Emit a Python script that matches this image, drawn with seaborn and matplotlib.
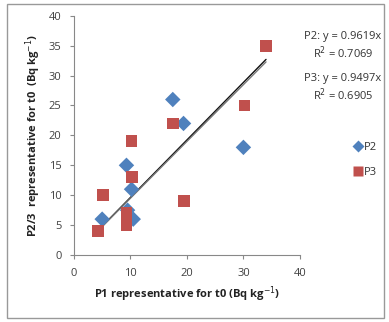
import matplotlib
matplotlib.use("Agg")
import matplotlib.pyplot as plt
import seaborn as sns
import numpy as np
import pandas as pd
from matplotlib.patches import Rectangle
from matplotlib.lines import Line2D

# data
p2_x = [5.0, 9.3, 10.2, 10.5, 9.5, 17.5, 19.4, 30.0]
p2_y = [6.0, 15.0, 11.0, 6.0, 7.5, 26.0, 22.0, 18.0]
p3_x = [4.3, 5.2, 9.3, 9.3, 10.2, 10.3, 17.6, 19.5, 30.2, 34.0]
p3_y = [4.0, 10.0, 7.0, 5.0, 19.0, 13.0, 22.0, 9.0, 25.0, 35.0]
series = ["P2", "P3"]
slopes = [0.9619, 0.9497]
r2 = [0.7069, 0.6905]
x_ticks = [0, 10, 20, 30, 40]
y_ticks = [0, 5, 10, 15, 20, 25, 30, 35, 40]

df = pd.DataFrame({
    "x": p2_x + p3_x,
    "y": p2_y + p3_y,
    "series": ["P2"] * len(p2_x) + ["P3"] * len(p3_x),
})

sns.set_style("white")
plt.rcParams["font.family"] = ["Open Sans", "DejaVu Sans"]

fig = plt.figure(figsize=(3.89, 3.22), dpi=100)
ax = fig.add_axes([0.190, 0.208, 0.581, 0.743])

colors = {"P2": "#4F81BD", "P3": "#C0504D"}
markers = {"P2": "D", "P3": "s"}
for s in series:
    sub = df[df.series == s]
    sns.scatterplot(data=sub, x="x", y="y", color=colors[s], marker=markers[s],
                    s=62 if s == "P2" else 72, edgecolor="none", ax=ax, zorder=3)

# trend lines through origin
xs = np.array([df.x.min(), df.x.max()])
line_colors = ["#111111", "#777777"]
for k, m in enumerate(slopes):
    ax.plot(xs, m * xs, color=line_colors[k], lw=1.0, zorder=2)

ax.set_xlim(0, 40)
ax.set_ylim(0, 40)
ax.set_xticks(x_ticks)
ax.set_yticks(y_ticks)
ax.tick_params(axis="both", labelsize=8, colors="#404040", length=3, direction="out",
               bottom=True, left=True, pad=6)
ax.tick_params(axis="both", color="#888888")
for sp in ["top", "right"]:
    ax.spines[sp].set_visible(False)
for sp in ["left", "bottom"]:
    ax.spines[sp].set_color("#888888")
    ax.spines[sp].set_linewidth(0.8)

ax.set_xlabel("P1 representative for t0 (Bq kg$^{-1}$)", fontsize=8, fontweight="bold",
              color="#222222", labelpad=4)
ax.set_ylabel("P2/3  representative for t0  (Bq kg$^{-1}$)", fontsize=8, fontweight="bold",
              color="#222222", labelpad=4)

# equation texts
txt_kw = dict(fontsize=8, color="#333333", ha="center", va="center", transform=fig.transFigure)
fig.text(343 / 389, 1 - 37 / 322, f"{series[0]}: y = {slopes[0]:.4f}x", **txt_kw)
fig.text(343 / 389, 1 - 53 / 322, f"R$^2$ = {r2[0]:.4f}", **txt_kw)
fig.text(343 / 389, 1 - 79 / 322, f"{series[1]}: y = {slopes[1]:.4f}x", **txt_kw)
fig.text(343 / 389, 1 - 95 / 322, f"R$^2$ = {r2[1]:.4f}", **txt_kw)

handles = [Line2D([], [], marker=markers[s], color=colors[s], linestyle="none",
                  markersize=6 if s == "P2" else 7, markeredgecolor="none") for s in series]
fig.legend(handles, series, loc="center left", bbox_to_anchor=(342 / 389, 1 - 160 / 322),
           frameon=False, fontsize=8, handletextpad=0.1, labelspacing=1.3,
           handlelength=1.0, labelcolor="#333333")

# outer border
fig.patches.append(Rectangle((7 / 389, 4 / 322), 377 / 389, 314 / 322, transform=fig.transFigure,
                             fill=False, edgecolor="#999999", lw=1.0))

fig.savefig("out.png", dpi=100)
